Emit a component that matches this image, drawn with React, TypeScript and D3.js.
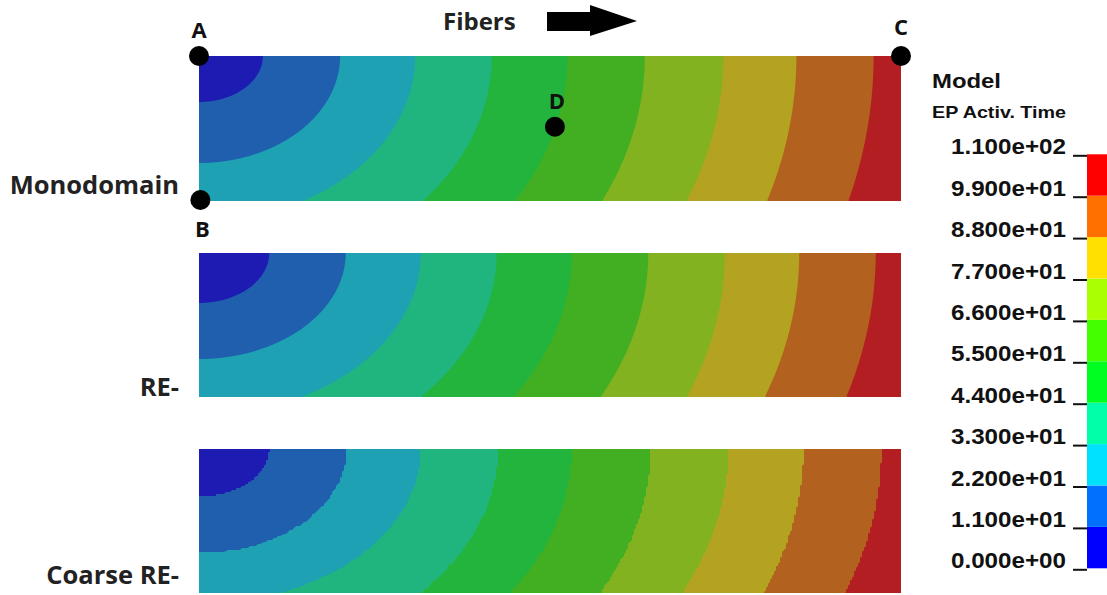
import React from "react";
import * as d3 from "d3";

// Activation-time isolines (ms) separating the 10 colour bands
const levels = [11, 22, 33, 44, 55, 66, 77, 88, 99];
const bandColors = ["#1e1bb3", "#1f5fae", "#1fa1b4", "#20b57f", "#22b43c", "#42af22", "#83b220", "#b4a321", "#b3611f", "#b21e22"];
const barColors = ["#0000ff", "#0070ff", "#00e0ff", "#00ffa8", "#00ff20", "#44ff00", "#aaff00", "#ffe000", "#ff7000", "#ff0000"];
const tickValues = [0, 11, 22, 33, 44, 55, 66, 77, 88, 99, 110];
const tickLabels = ["0.000e+00", "1.100e+01", "2.200e+01", "3.300e+01", "4.400e+01", "5.500e+01", "6.600e+01", "7.700e+01", "8.800e+01", "9.900e+01", "1.100e+02"];
const panelNames = ["Monodomain", "RE-", "Coarse RE-"];

// Isoline intercepts, tissue coordinates normalised to [0,1] (x along fibers, y across, from corner A)
// top edge x for every level
const monoTop = [0.091, 0.201, 0.308, 0.417, 0.525, 0.635, 0.747, 0.851, 0.961];
const reTop = [0.100, 0.209, 0.316, 0.424, 0.531, 0.640, 0.749, 0.855, 0.964];
const coarseTop = [0.100, 0.210, 0.316, 0.426, 0.531, 0.643, 0.754, 0.861, 0.972];
// left edge y for levels 11 and 22
const monoLeft = [0.317, 0.738];
const reLeft = [0.347, 0.736];
const coarseLeft = [0.329, 0.722];
// bottom edge x for levels 33 .. 99
const monoBottom = [0.148, 0.319, 0.450, 0.574, 0.694, 0.809, 0.925];
const reBottom = [0.146, 0.316, 0.448, 0.572, 0.695, 0.806, 0.922];
const coarseBottom = [0.115, 0.315, 0.443, 0.571, 0.688, 0.804, 0.920];

// Marked points (panel 1)
const markerNames = ["A", "B", "C", "D"];
const markerX = [0, 0.002, 1, 0.507];
const markerY = [0, 0.993, 0, 0.488];

const W = 1107;
const H = 595;
const panelTops = [56, 253, 449];
const panelHeights = [145, 144, 144];
const X0 = 199;
const X1 = 901;

const panelData = [
  { top: monoTop, left: monoLeft, bottom: monoBottom, coarse: false },
  { top: reTop, left: reLeft, bottom: reBottom, coarse: false },
  { top: coarseTop, left: coarseLeft, bottom: coarseBottom, coarse: true },
];

function isoRegion(a: number, left: number | null, bottom: number | null): [number, number][] {
  // quarter-ellipse centred on A through the read intercepts
  const pts: [number, number][] = [[0, 0], [a, 0]];
  let b: number;
  let thEnd: number;
  if (left != null) {
    b = left;
    thEnd = Math.PI / 2;
  } else {
    const r = (bottom as number) / a;
    b = 1 / Math.sqrt(1 - r * r);
    thEnd = Math.asin(1 / b);
  }
  const n = 80;
  for (let i = 0; i <= n; i++) {
    const th = (thEnd * i) / n;
    pts.push([a * Math.cos(th), b * Math.sin(th)]);
  }
  if (left == null) pts.push([0, 1]);
  return pts;
}

function Panel({ idx }: { idx: number }) {
  const p = panelData[idx];
  const top = panelTops[idx];
  const h = panelHeights[idx];
  const xs = d3.scaleLinear().domain([0, 1]).range([X0, X1]);
  const ys = d3.scaleLinear().domain([0, 1]).range([top, top + h]);
  const q = p.coarse ? 2 : 0;
  const line = d3
    .line<[number, number]>()
    .x((d) => (d[0] <= 1e-6 ? X0 - 3 : q ? Math.round(xs(d[0]) / q) * q : xs(d[0])))
    .y((d) => (d[1] <= 1e-6 ? top - 3 : d[1] >= 1 - 1e-6 ? top + h + 3 : q ? Math.round(ys(d[1]) / q) * q : ys(d[1])))
    .curve(d3.curveLinear);
  const clipId = `clip-${idx}`;
  const regions = levels
    .map((lv, i) => {
      const left = i < p.left.length ? p.left[i] : null;
      const bottom = i < p.left.length ? null : p.bottom[i - p.left.length];
      return { lv, i, d: line(isoRegion(p.top[i], left, bottom)) + "Z" };
    })
    .reverse();
  return (
    <g>
      <defs>
        <clipPath id={clipId}>
          <rect x={X0} y={top} width={X1 - X0} height={h} />
        </clipPath>
      </defs>
      <g clipPath={`url(#${clipId})`}>
        <rect x={X0} y={top} width={X1 - X0} height={h} fill={bandColors[levels.length]} />
        {regions.map((r) => (
          <path key={r.lv} d={r.d} fill={bandColors[r.i]} />
        ))}
      </g>
      <text
        x={179}
        y={[194, 396, 584][idx]}
        textAnchor="end"
        fontFamily="'Open Sans', sans-serif"
        fontWeight={700}
        fontSize={25.5}
        fill="#222"
      >
        {panelNames[idx]}
      </text>
    </g>
  );
}

function ColorBar() {
  const y = d3.scaleLinear().domain([0, 110]).range([568.3, 154.3]);
  return (
    <g>
      <text x={932} y={88} fontFamily="'Liberation Sans', Arial, sans-serif" fontWeight={700} fontSize={21} textLength={69} lengthAdjust="spacingAndGlyphs" fill="#111">
        Model
      </text>
      <text x={932} y={118} fontFamily="'Liberation Sans', Arial, sans-serif" fontWeight={700} fontSize={16.5} textLength={134} lengthAdjust="spacingAndGlyphs" fill="#111">
        EP Activ. Time
      </text>
      {barColors.map((c, i) => (
        <rect key={i} x={1087} y={y(tickValues[i + 1])} width={24} height={y(tickValues[i]) - y(tickValues[i + 1])} fill={c} />
      ))}
      {tickValues.map((v, i) => (
        <g key={v}>
          <line x1={1073} x2={1087} y1={y(v) + 1.5} y2={y(v) + 1.5} stroke="#111" strokeWidth={2} />
          <text x={1066} y={y(v)} textAnchor="end" fontFamily="'Liberation Sans', Arial, sans-serif" fontWeight={700} fontSize={22} textLength={115} lengthAdjust="spacingAndGlyphs" fill="#111">
            {tickLabels[i]}
          </text>
        </g>
      ))}
    </g>
  );
}

function Markers() {
  const xs = d3.scaleLinear().domain([0, 1]).range([X0, X1]);
  const ys = d3.scaleLinear().domain([0, 1]).range([panelTops[0], panelTops[0] + panelHeights[0]]);
  const labelDx = [0, 2, 0, 2];
  const labelDy = [-18, 37, -21, -18];
  return (
    <g>
      {markerNames.map((n, i) => (
        <g key={n}>
          <circle cx={xs(markerX[i])} cy={ys(markerY[i])} r={10} fill="#000" />
          <text
            x={xs(markerX[i]) + labelDx[i]}
            y={ys(markerY[i]) + labelDy[i]}
            textAnchor="middle"
            fontFamily="'Open Sans', sans-serif"
            fontWeight={700}
            fontSize={22}
            fill="#111"
          >
            {n}
          </text>
        </g>
      ))}
    </g>
  );
}

export default function App() {
  return (
    <svg width={W} height={H} style={{ position: "absolute", left: 0, top: 0, background: "#fff" }}>
      <rect width={W} height={H} fill="#fff" />
      <text x={443} y={30} fontFamily="'Open Sans', sans-serif" fontWeight={700} fontSize={24} fill="#222">
        Fibers
      </text>
      <path d="M547,12 L590,12 L590,5 L637,21 L590,36 L590,31 L547,31 Z" fill="#000" />
      {panelNames.map((_, i) => (
        <Panel key={i} idx={i} />
      ))}
      <Markers />
      <ColorBar />
    </svg>
  );
}
